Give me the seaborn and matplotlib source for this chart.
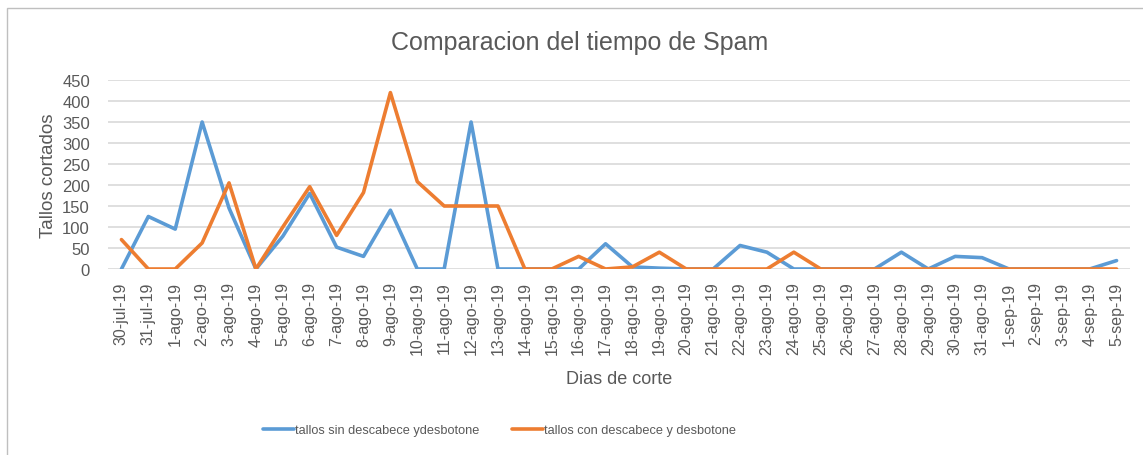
import pandas as pd
import seaborn as sns
import matplotlib.pyplot as plt
from matplotlib.patches import Rectangle

############################
# Data
############################

dias = (
    ["30-jul-19", "31-jul-19"]
    + [f"{d}-ago-19" for d in range(1, 32)]
    + [f"{d}-sep-19" for d in range(1, 6)]
)

sin_descabece = [
    0, 125, 95, 350, 145, 0, 78, 180, 52, 30,
    140, 0, 0, 350, 0, 0, 0, 0, 60, 5,
    2, 0, 0, 56, 40, 0, 0, 0, 0, 40,
    0, 30, 27, 0, 0, 0, 0, 20,
]

con_descabece = [
    70, 0, 0, 62, 205, 0, 100, 196, 80, 182,
    420, 208, 150, 150, 150, 0, 0, 30, 0, 5,
    40, 0, 0, 0, 0, 40, 0, 0, 0, 0,
    0, 0, 0, 0, 0, 0, 0, 0,
]

serie_azul = "tallos sin descabece ydesbotone"
serie_naranja = "tallos con descabece y desbotone"

df = pd.concat([
    pd.DataFrame({"dia": dias, "tallos": sin_descabece, "serie": serie_azul}),
    pd.DataFrame({"dia": dias, "tallos": con_descabece, "serie": serie_naranja}),
])

############################
# Plot
############################

sns.set_style("white")
plt.rcParams["font.family"] = ["Liberation Sans", "DejaVu Sans"]
gris = "#595959"

fig = plt.figure(figsize=(11.43, 4.56), dpi=100)
ax = fig.add_axes([108 / 1143, 1 - 270 / 456, 1022 / 1143, 189 / 456])

sns.lineplot(
    data=df, x="dia", y="tallos", hue="serie", sort=False,
    palette={serie_azul: "#5B9BD5", serie_naranja: "#ED7D31"},
    linewidth=2.6, ax=ax, legend=True,
)

ax.set_xlim(-0.5, len(dias) - 0.5)
ax.set_ylim(0, 450)
ax.set_yticks(range(0, 451, 50))
ax.yaxis.grid(True, color="#D9D9D9", linewidth=1.2)
ax.set_axisbelow(True)
for s in ax.spines.values():
    s.set_visible(False)
ax.tick_params(axis="x", rotation=90, labelsize=11.5, colors=gris, length=0, pad=9)
ax.tick_params(axis="y", labelsize=12, colors=gris, length=0, pad=13)

ax.set_xlabel("Dias de corte", fontsize=13, color=gris, labelpad=11)
ax.set_ylabel("Tallos cortados", fontsize=13.5, color=gris, labelpad=4)
fig.text(0.507, 1 - 43 / 456, "Comparacion del tiempo de Spam",
         ha="center", va="center", fontsize=18, color=gris)

handles, labels = ax.get_legend_handles_labels()
ax.legend_.remove()
fig.legend(handles, labels, loc="center", bbox_to_anchor=(0.437, 1 - 431 / 456),
           ncol=2, frameon=False, fontsize=9.2, labelcolor=gris,
           handlelength=2.4, handletextpad=0.05, columnspacing=2.6)

# chart frame
fig.patches.append(Rectangle((7 / 1143, -0.1), 1.2, 1 - 9 / 456 + 0.1,
                             transform=fig.transFigure, fill=False,
                             edgecolor="#BFBFBF", linewidth=1))

fig.savefig("out.png", dpi=100)
